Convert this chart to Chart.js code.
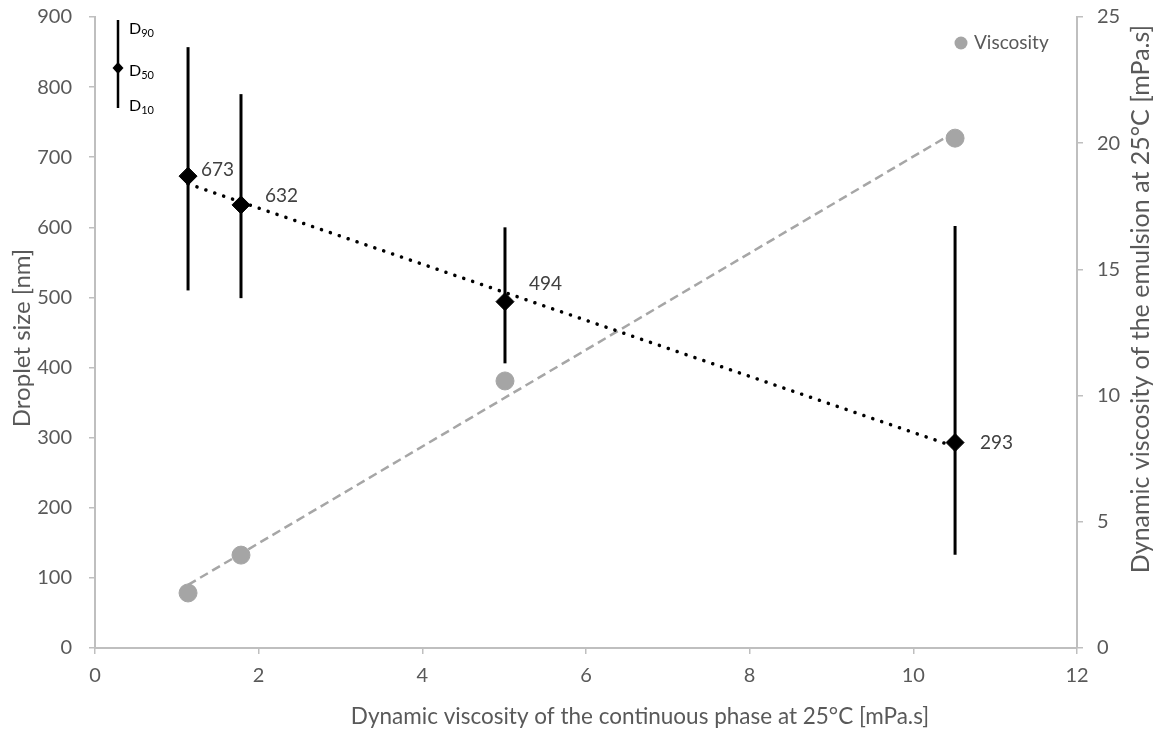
<!DOCTYPE html>
<html>
<head>
<meta charset="utf-8">
<script src="https://cdn.jsdelivr.net/npm/chart.js@4"></script>
<style>
  html, body { margin: 0; padding: 0; background: #ffffff; }
  #wrap { width: 1156px; height: 729px; position: relative; }
</style>
</head>
<body>
<div id="wrap"><canvas id="chart"></canvas></div>
<script>
  // continuous phase viscosity [mPa.s]
  const xValues = [1.137, 1.784, 5.01, 10.51];
  // droplet sizes [nm]
  const d50 = [673, 632, 494, 293];
  const d10 = [510, 499, 406, 133];
  const d90 = [857, 790, 600, 602];
  // emulsion viscosity [mPa.s]
  const emulsionViscosity = [2.18, 3.68, 10.58, 20.2];
  // trendline end points
  const sizeTrendX = [1.137, 10.51];
  const sizeTrendY = [662, 287];
  const viscTrendX = [1.137, 10.51];
  const viscTrendY = [2.5, 20.45];

  const xTicks = [0, 2, 4, 6, 8, 10, 12];
  const xTitle = "Dynamic viscosity of the continuous phase at 25°C [mPa.s]";
  const yTitle = "Droplet size [nm]";
  const y2Title = "Dynamic viscosity of the emulsion at 25°C [mPa.s]";

  const FONT = "Lato, 'Open Sans', sans-serif";
  const GREY_TEXT = "#595959";
  const AXIS_GREY = "#bfbfbf";

  const toPoints = (xs, ys) => xs.map((x, i) => ({ x: x, y: ys[i] }));

  const errorBarPlugin = {
    id: "errorBars",
    beforeDatasetsDraw(chart) {
      const { ctx, scales } = chart;
      ctx.save();
      ctx.strokeStyle = "#000000";
      ctx.lineWidth = 3;
      xValues.forEach((x, i) => {
        const px = scales.x.getPixelForValue(x);
        ctx.beginPath();
        ctx.moveTo(px, scales.y.getPixelForValue(d10[i]));
        ctx.lineTo(px, scales.y.getPixelForValue(d90[i]));
        ctx.stroke();
      });
      ctx.restore();
    },
  };

  const labelOffsets = [[13, -6], [24, -9], [24, -18], [25, 0]];
  const extrasPlugin = {
    id: "extras",
    afterDatasetsDraw(chart) {
      const { ctx, scales, chartArea } = chart;
      ctx.save();
      // value labels
      ctx.font = "19px " + FONT;
      ctx.fillStyle = "#404040";
      ctx.textBaseline = "middle";
      ctx.textAlign = "left";
      d50.forEach((v, i) => {
        const px = scales.x.getPixelForValue(xValues[i]);
        const py = scales.y.getPixelForValue(v);
        ctx.fillText(String(v), px + labelOffsets[i][0], py + labelOffsets[i][1]);
      });

      // D10/D50/D90 key
      const kx = chartArea.left + 23;
      const ky = chartArea.top;
      ctx.strokeStyle = "#000000";
      ctx.lineWidth = 2.5;
      ctx.beginPath();
      ctx.moveTo(kx, ky + 3);
      ctx.lineTo(kx, ky + 91);
      ctx.stroke();
      ctx.fillStyle = "#000000";
      ctx.beginPath();
      ctx.moveTo(kx, ky + 45);
      ctx.lineTo(kx + 5.5, ky + 51);
      ctx.lineTo(kx, ky + 57);
      ctx.lineTo(kx - 5.5, ky + 51);
      ctx.closePath();
      ctx.fill();
      const keyLabels = [["D", "90", 12], ["D", "50", 54], ["D", "10", 89]];
      keyLabels.forEach(([main, sub, dy]) => {
        ctx.font = "16px " + FONT;
        ctx.textBaseline = "alphabetic";
        ctx.fillText(main, kx + 11, ky + dy + 5);
        const w = ctx.measureText(main).width;
        ctx.font = "11px " + FONT;
        ctx.fillText(sub, kx + 11 + w, ky + dy + 8);
      });

      // Viscosity legend
      ctx.fillStyle = "#a5a5a5";
      ctx.beginPath();
      ctx.arc(961, 43, 6.5, 0, Math.PI * 2);
      ctx.fill();
      ctx.font = "19px " + FONT;
      ctx.fillStyle = GREY_TEXT;
      ctx.textBaseline = "middle";
      ctx.fillText("Viscosity", 974, 43);

      // axis titles
      ctx.fillStyle = GREY_TEXT;
      ctx.textAlign = "center";
      ctx.textBaseline = "middle";
      ctx.font = "22.5px " + FONT;
      ctx.fillText(xTitle, 640, 717);

      ctx.save();
      ctx.translate(22, 338);
      ctx.rotate(-Math.PI / 2);
      ctx.font = "24px " + FONT;
      ctx.fillText(yTitle, 0, 0);
      ctx.restore();

      ctx.save();
      ctx.translate(1141, 299);
      ctx.rotate(-Math.PI / 2);
      ctx.font = "25px " + FONT;
      ctx.fillText(y2Title, 0, 0);
      ctx.restore();

      ctx.restore();
    },
  };

  const axisGrid = { drawOnChartArea: false, drawTicks: true, tickLength: 6, color: AXIS_GREY, lineWidth: 1.5 };
  const noVerticalPadding = (scale, width) => {
    scale.width = width;
    scale.paddingTop = 0;
    scale.paddingBottom = 0;
  };

  new Chart(document.getElementById("chart"), {
    type: "scatter",
    data: {
      datasets: [
        {
          type: "line",
          label: "Size trend",
          data: toPoints(sizeTrendX, sizeTrendY),
          borderColor: "#000000",
          borderWidth: 3.5,
          borderDash: [0.1, 9.3],
          borderCapStyle: "round",
          pointRadius: 0,
          yAxisID: "y",
          order: 3,
        },
        {
          type: "line",
          label: "Viscosity trend",
          data: toPoints(viscTrendX, viscTrendY),
          borderColor: "#a6a6a6",
          borderWidth: 2.5,
          borderDash: [9, 5],
          pointRadius: 0,
          yAxisID: "y2",
          order: 4,
        },
        {
          label: "Viscosity",
          data: toPoints(xValues, emulsionViscosity),
          backgroundColor: "#a5a5a5",
          borderColor: "#a5a5a5",
          pointRadius: 9,
          yAxisID: "y2",
          order: 2,
        },
        {
          label: "D50",
          data: toPoints(xValues, d50),
          pointStyle: "rectRot",
          backgroundColor: "#000000",
          borderColor: "#000000",
          pointRadius: 9,
          yAxisID: "y",
          order: 1,
        },
      ],
    },
    options: {
      responsive: true,
      maintainAspectRatio: false,
      animation: false,
      layout: { autoPadding: false, padding: { top: 17, left: 0, right: 0, bottom: 0 } },
      plugins: {
        legend: { display: false },
        tooltip: { enabled: false },
      },
      scales: {
        x: {
          type: "linear",
          min: 0,
          max: 12,
          afterBuildTicks: (scale) => { scale.ticks = xTicks.map((v) => ({ value: v })); },
          afterFit: (scale) => { scale.height = 81; },
          border: { color: AXIS_GREY, width: 2 },
          grid: axisGrid,
          ticks: { color: GREY_TEXT, font: { family: FONT, size: 20 }, padding: 10 },
        },
        y: {
          type: "linear",
          position: "left",
          min: 0,
          max: 900,
          ticks: { stepSize: 100, color: GREY_TEXT, font: { family: FONT, size: 20 }, padding: 17 },
          afterFit: (scale) => noVerticalPadding(scale, 95),
          border: { color: AXIS_GREY, width: 2 },
          grid: axisGrid,
        },
        y2: {
          type: "linear",
          position: "right",
          min: 0,
          max: 25,
          ticks: { stepSize: 5, color: GREY_TEXT, font: { family: FONT, size: 20 }, padding: 14 },
          afterFit: (scale) => noVerticalPadding(scale, 79),
          border: { color: AXIS_GREY, width: 2 },
          grid: axisGrid,
        },
      },
    },
    plugins: [errorBarPlugin, extrasPlugin],
  });
</script>
</body>
</html>
